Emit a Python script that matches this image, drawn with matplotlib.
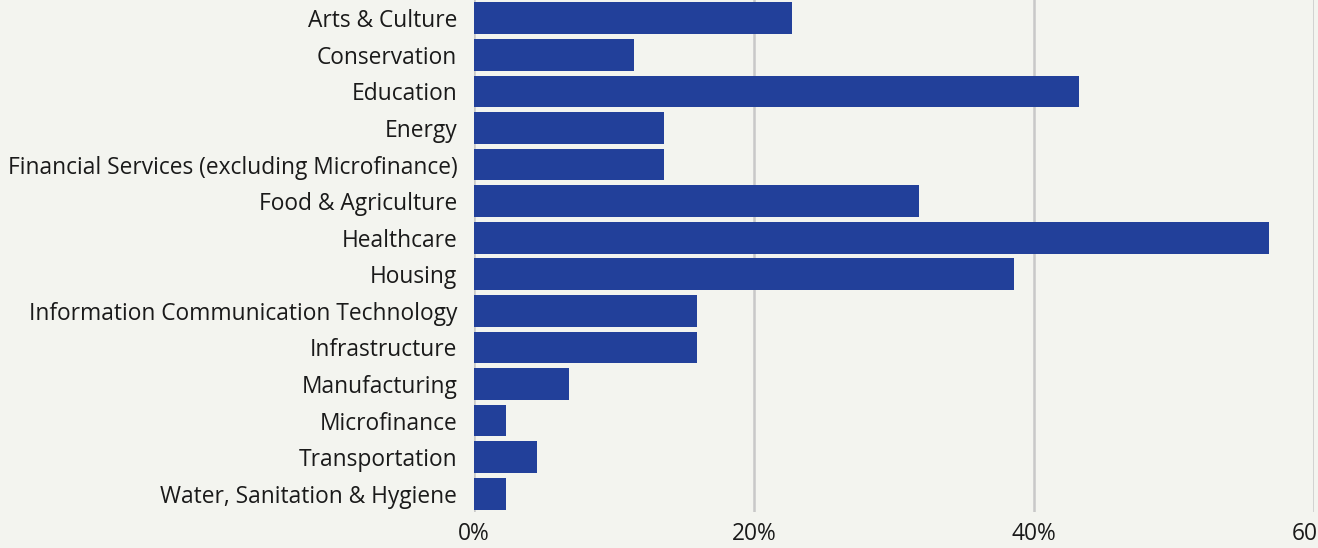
import matplotlib.pyplot as plt
from matplotlib.ticker import FuncFormatter

# Sector shares (percent of respondents)
sectors = [
    'Arts & Culture', 'Conservation', 'Education', 'Energy',
    'Financial Services (excluding Microfinance)', 'Food & Agriculture',
    'Healthcare', 'Housing', 'Information Communication Technology',
    'Infrastructure', 'Manufacturing', 'Microfinance', 'Transportation',
    'Water, Sanitation & Hygiene',
]
shares = [22.7, 11.4, 43.2, 13.6, 13.6, 31.8, 56.8, 38.6, 15.9, 15.9, 6.8, 2.3, 4.5, 2.3]
x_ticks = [0, 20, 40, 60]

bg = '#f3f4ef'
bar_color = '#22409a'

plt.rcParams['font.family'] = ['Open Sans', 'DejaVu Sans']

fig = plt.figure(figsize=(13.18, 5.48), dpi=100, facecolor=bg)
ax = fig.add_axes([474 / 1318, 36 / 548, 840 / 1318, 512 / 548], facecolor=bg)

y = list(range(len(sectors)))
ax.barh(y, shares, height=0.87, color=bar_color, zorder=3)

ax.set_ylim(len(sectors) - 0.5, -0.5)
ax.set_xlim(0, 60)
ax.set_yticks(y)
ax.set_yticklabels(sectors, fontsize=16.4, color='#1a1a1a')
ax.set_xticks(x_ticks)
ax.xaxis.set_major_formatter(FuncFormatter(lambda v, p: f'{v:.0f}%'))
ax.tick_params(axis='x', length=0, pad=7, labelsize=16.4, labelcolor='#1a1a1a')
ax.tick_params(axis='y', length=0, pad=12)

ax.grid(axis='x', color='#c8c8c8', linewidth=1.8, zorder=0)
ax.grid(axis='y', visible=False)
for s in ax.spines.values():
    s.set_visible(False)

fig.savefig('out.png', dpi=100, facecolor=bg)
